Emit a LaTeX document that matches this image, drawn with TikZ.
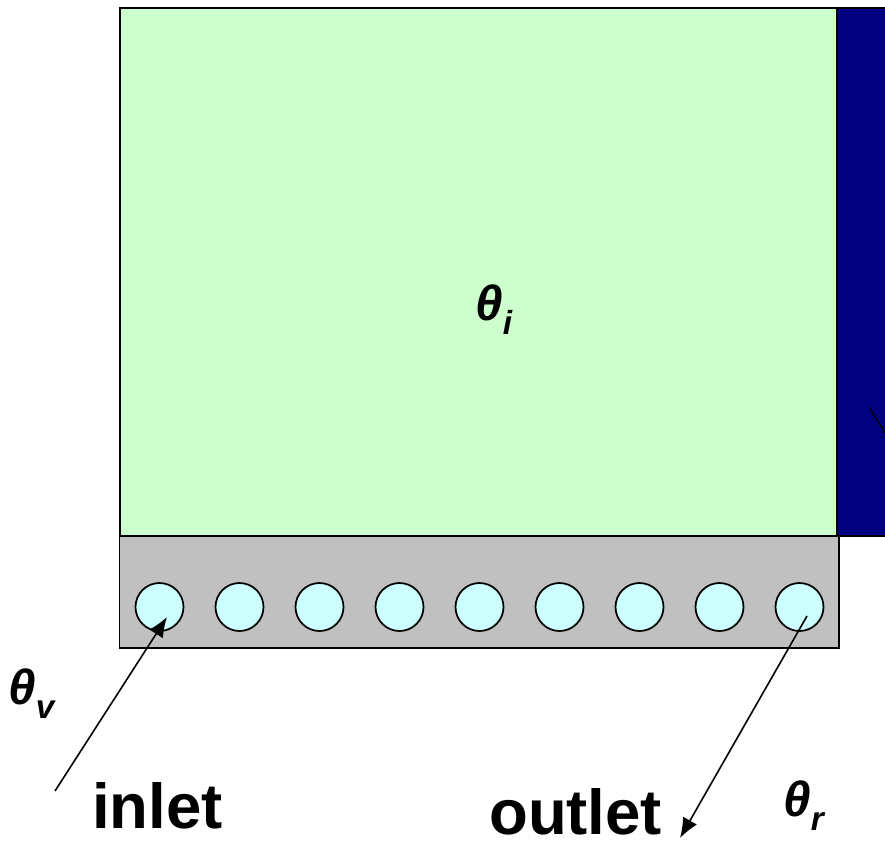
\documentclass[tikz,border=0pt]{standalone}
\usepackage{fontspec}
\setmainfont{Liberation Sans}
\usetikzlibrary{arrows.meta,calc}
\definecolor{roomgreen}{HTML}{CCFFCC}
\definecolor{wallblue}{HTML}{000080}
\definecolor{slabgray}{HTML}{C0C0C0}
\definecolor{tubecyan}{HTML}{CCFFFF}
\tikzset{
tube/.style={circle,draw=black,fill=tubecyan,line width=1.3pt,minimum size=48*0.75pt,inner sep=0pt},
flow/.style={line width=1.2pt,-{Latex[length=15pt,width=12pt]}},
temp/.style={anchor=base west,inner sep=0pt,font=\fontsize{37}{37}\bfseries\itshape\selectfont},
port/.style={anchor=base west,inner sep=0pt,font=\fontsize{47.6}{48}\bfseries\selectfont}
}
\newcommand{\subtemp}[1]{\raisebox{-10.5pt}{\fontsize{25}{25}\selectfont #1}}
\begin{document}
\begin{tikzpicture}[x=0.75pt,y=-0.75pt,line join=miter]
\useasboundingbox (0,0) rectangle (885,843);
\coordinate (A) at (119.5,8);
\coordinate (B) at (119.5,536);
\coordinate (C) at (836.5,536);
\coordinate (D) at (836.5,8);
\coordinate (E) at (890,8);
\coordinate (F) at (890,536);
\coordinate (G) at (119.5,648);
\coordinate (H) at (839,648);
\coordinate (K) at (839,536);
\draw[fill=slabgray,line width=1.3pt](B)--(G)--(H)--(K)--cycle;
\draw[fill=wallblue,line width=1.5pt](D)--(E)--(F)--(C)--cycle;
\draw[fill=roomgreen,line width=1.5pt](A)--(B)--(C)--(D)--cycle;
\foreach \i in {0,...,8}{\node[tube] (tube\i) at (159.5+80*\i,607) {};}
\coordinate (inletstart) at (55,791);
\coordinate (inletend) at (167,617);
\coordinate (outletstart) at (807,616);
\coordinate (outletend) at (680,838);
\coordinate (markP) at (869,407);
\coordinate (markQ) at (887,436);
\draw[line width=1pt](markP)--(markQ);
\draw[flow](inletstart)--(inletend);
\draw[flow](outletstart)--(outletend);
\node[temp] (thetai) at (475,320) {θ\subtemp{i}};
\node[temp] (thetav) at (8,704) {θ\subtemp{v}};
\node[temp] (thetar) at (783,816) {θ\subtemp{r}};
\node[port] (inlet) at (92,828) {inlet};
\node[port] (outlet) at (489,834) {outlet};
\end{tikzpicture}
\end{document}
